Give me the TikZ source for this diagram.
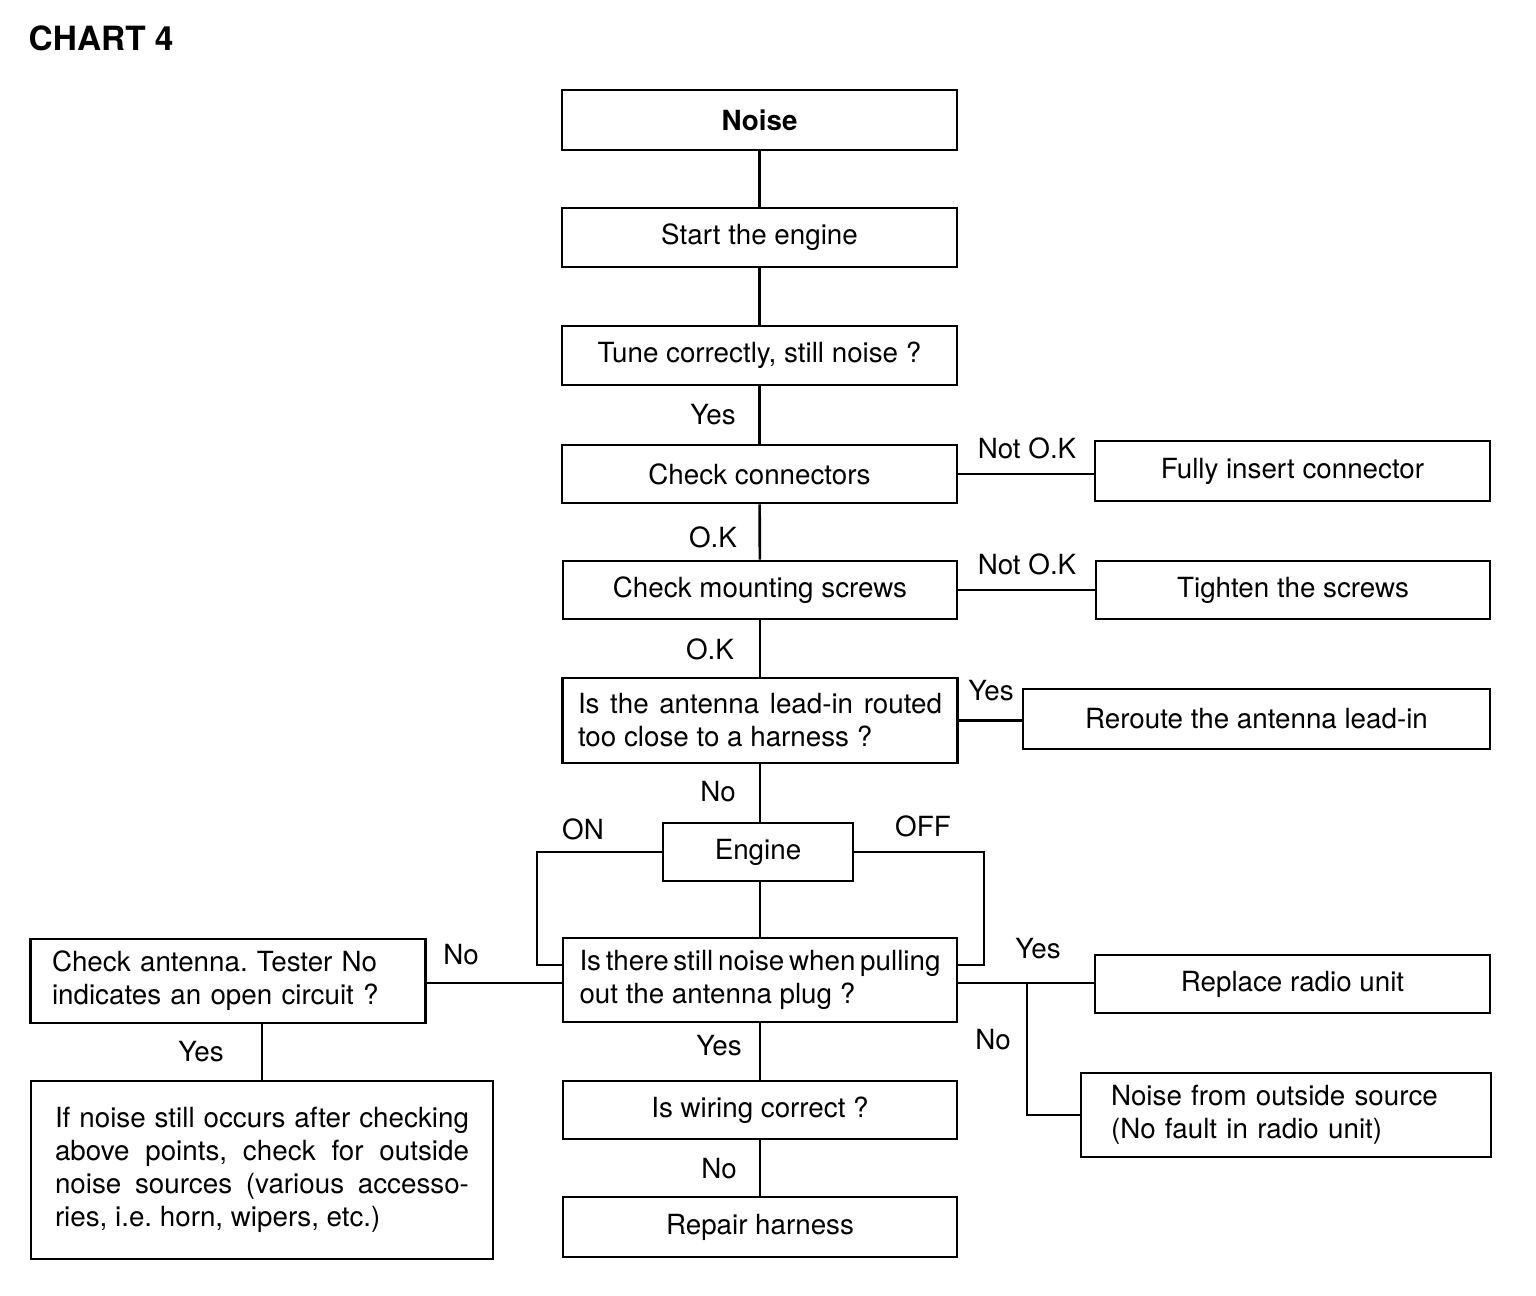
\documentclass[tikz,border=0pt]{standalone}
\usepackage{fontspec}
\setmainfont{TeX Gyre Heros}
\frenchspacing
\usetikzlibrary{positioning,calc}
\tikzset{
  box/.style   ={draw,line width=0.75pt,inner sep=0pt,minimum width=39.5mm,minimum height=5.9mm,
                 font=\fontsize{7.9}{9.4}\selectfont,align=center},
  lbox/.style  ={box,align=left},
  ln/.style    ={line width=0.75pt},
  lbl/.style   ={font=\fontsize{7.9}{9.4}\selectfont,inner sep=1pt},
  title/.style ={font=\fontsize{9.5}{11}\selectfont\bfseries,inner sep=0pt},
}
\begin{document}
\begin{tikzpicture}[x=0.1mm,y=-0.1mm]
  \useasboundingbox (0,0) rectangle (1536,1296);
  \node[title,anchor=west] (chart) at (28,38) {CHART 4};
  % main column
  \node[box,minimum height=6mm,font=\fontsize{7.9}{9.4}\selectfont\bfseries] (noise) at (759.5,120) {Noise};
  \node[box] (start) at (759.5,237.5) {Start the engine};
  \node[box] (tune) at (759.5,355.5) {Tune correctly, still noise ?};
  \node[box,minimum height=5.8mm] (conn) at (759.5,474) {Check connectors};
  \node[box,minimum height=5.8mm,minimum width=39.4mm] (screws) at (760,590) {Check mounting screws};
  \node[box,align=justify,text width=36.4mm,inner xsep=1.5mm,minimum height=8.5mm] (lead) at (760,720.5)
    {Is the antenna lead-in routed\linebreak too close to a harness ?};
  \node[box,minimum width=19mm,minimum height=5.8mm] (engine) at (758,852) {Engine};
  \node[lbox,minimum width=39.4mm,minimum height=8.4mm] (pull) at (760,980)
    {\spaceskip=0.17em Is there still noise when pulling\\out the antenna plug ?};
  \node[box,minimum width=39.4mm,minimum height=5.8mm] (wiring) at (760,1110) {Is wiring correct ?};
  \node[box,minimum width=39.4mm,minimum height=6mm] (repair) at (760,1227) {Repair harness};
  % right column
  \node[box,minimum height=6mm] (insert) at (1292.5,471) {Fully insert connector};
  \node[box,minimum height=5.8mm,minimum width=39.4mm] (tighten) at (1293,590) {Tighten the screws};
  \node[box,minimum width=46.7mm,minimum height=6mm] (reroute) at (1256.5,719) {Reroute the antenna lead-in};
  \node[box,minimum height=5.8mm] (replace) at (1292.5,984) {Replace radio unit};
  \node[lbox,text width=35mm,inner xsep=3mm,minimum height=8.4mm] (outside) at (1286,1115)
    {Noise from outside source\\(No fault in radio unit)};
  % left column
  \node[lbox,text width=35.2mm,inner xsep=2.1mm,minimum height=8.4mm] (antenna) at (228,981)
    {Check antenna. Tester No\\indicates an open circuit ?};
  \node[box,align=justify,text width=41.4mm,inner xsep=2.4mm,minimum height=17.8mm] (points) at (262,1170)
    {If noise still occurs after checking\linebreak above points, check for outside\linebreak
     noise sources (various accesso-\linebreak ries, i.e. horn, wipers, etc.)\par\vspace*{3.5mm}};
  \coordinate (onpt) at (537,965);
  \coordinate (offpt) at (984,965);
  \coordinate (split) at (1027,983);
  % connectors
  \draw[ln] (noise) -- (start);
  \draw[ln] (start) -- (tune);
  \draw[ln] (tune) -- (conn);
  \draw[ln] (conn) -- (screws);
  \draw[ln] (screws) -- (lead);
  \draw[ln] (lead) -- (engine.north -| lead.south);
  \draw[ln] (engine.south -| pull.north) -- (pull);
  \draw[ln] (pull) -- (wiring);
  \draw[ln] (wiring) -- (repair);
  \draw[ln] (conn.east) -- (conn.east -| insert.west);
  \draw[ln] (screws.east) -- (tighten.west);
  \draw[ln] (lead.east) -- (lead.east -| reroute.west);
  \draw[ln] (engine.west) -| (onpt) -- (onpt -| pull.west);
  \draw[ln] (engine.east) -| (offpt) -- (offpt -| pull.east);
  \draw[ln] (pull.east |- split) -- (split -| replace.west);
  \draw[ln] (split) |- (outside.west);
  \draw[ln] (pull.west |- split) -- (split -| antenna.east);
  \draw[ln] (points.north) -- (points.north |- antenna.south);
  % labels
  \node[lbl] (l1) at (713,415) {Yes};
  \node[lbl] (l2) at (1027,448) {Not O.K};
  \node[lbl] (l3) at (713,537) {O.K};
  \node[lbl] (l4) at (1027,564) {Not O.K};
  \node[lbl] (l5) at (710,649) {O.K};
  \node[lbl] (l6) at (991,691) {Yes};
  \node[lbl] (l7) at (718,792) {No};
  \node[lbl] (l8) at (583,829) {ON};
  \node[lbl] (l9) at (923,826) {OFF};
  \node[lbl] (l10) at (461,955) {No};
  \node[lbl] (l11) at (1038,949) {Yes};
  \node[lbl] (l12) at (993,1040) {No};
  \node[lbl] (l13) at (201,1052) {Yes};
  \node[lbl] (l14) at (719,1046) {Yes};
  \node[lbl] (l15) at (719,1169) {No};
\end{tikzpicture}
\end{document}
